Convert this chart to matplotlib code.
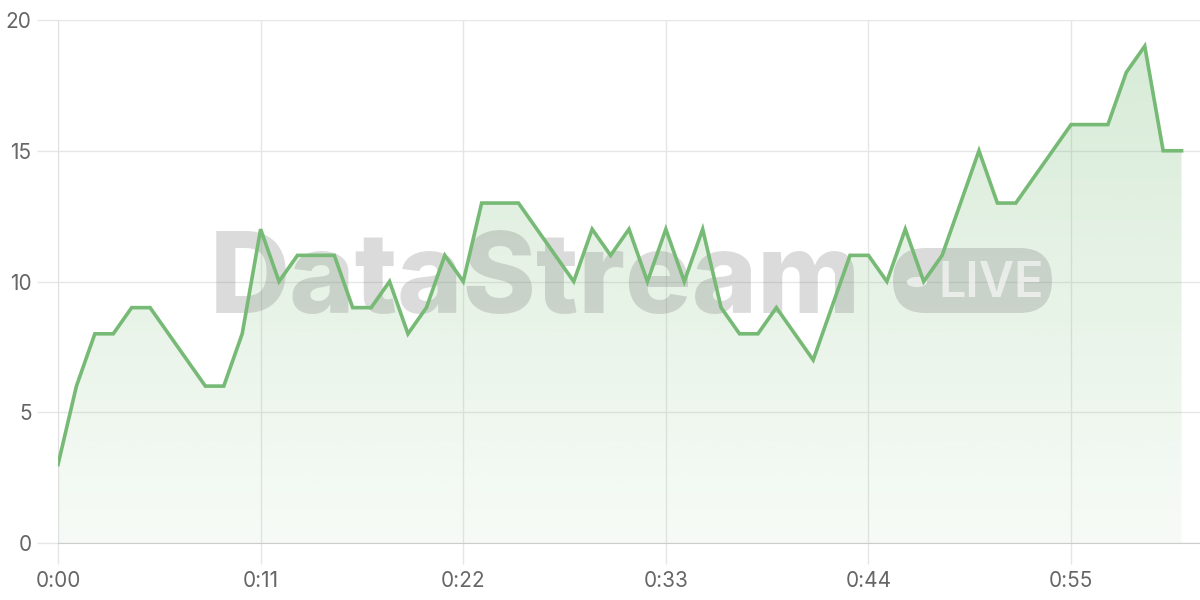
import numpy as np
import matplotlib
matplotlib.use("Agg")
import matplotlib.pyplot as plt
from matplotlib.patches import FancyBboxPatch, Circle, Polygon

# seconds since start and measured value
seconds = list(range(62))
values = [3, 6, 8, 8, 9, 9, 8, 7, 6, 6,
          8, 12, 10, 11, 11, 11, 9, 9, 10, 8,
          9, 11, 10, 13, 13, 13, 12, 11, 10, 12,
          11, 12, 10, 12, 10, 12, 9, 8, 8, 9,
          8, 7, 9, 11, 11, 10, 12, 10, 11, 13,
          15, 13, 13, 14, 15, 16, 16, 16, 18, 19,
          15, 15]
xticks = [0, 11, 22, 33, 44, 55]
xticklabels = ["0:00", "0:11", "0:22", "0:33", "0:44", "0:55"]
yticks = [0, 5, 10, 15, 20]

plt.rcParams['font.family'] = ['Inter', 'DejaVu Sans']

fig = plt.figure(figsize=(12, 6), dpi=100)
ax = fig.add_axes([58 / 1200, 57 / 600, 1142 / 1200, 523 / 600])

line_col = '#76ba76'

# gradient fill under the curve
xs = np.array(seconds, dtype=float)
ys = np.array(values, dtype=float)
verts = [(xs[0], 0)] + list(zip(xs, ys)) + [(xs[-1], 0)]
poly = Polygon(verts, closed=True, facecolor='none', edgecolor='none')
ax.add_patch(poly)
grad = np.zeros((256, 1, 4))
grad[:, 0, 0] = 0x76 / 255
grad[:, 0, 1] = 0xba / 255
grad[:, 0, 2] = 0x76 / 255
grad[:, 0, 3] = np.linspace(0.06, 0.30, 256)
img = ax.imshow(grad, extent=[xs[0], xs[-1], 0, 20], origin='lower',
                aspect='auto', zorder=1, interpolation='bilinear')
img.set_clip_path(poly)

ax.plot(seconds, values, color=line_col, linewidth=2.6, zorder=5,
        solid_joinstyle='miter')

ax.set_xlim(0, 62)
ax.set_ylim(0, 20)
ax.set_xticks(xticks)
ax.set_xticklabels(xticklabels)
ax.set_yticks(yticks)
ax.grid(True, color='#e6e6e6', linewidth=1)
ax.set_axisbelow(True)
for s in ['top', 'right']:
    ax.spines[s].set_visible(False)
ax.spines['left'].set_color('#e0e0e0')
ax.spines['bottom'].set_color('#cccccc')
ax.tick_params(axis='both', colors='#e6e6e6', length=15, width=1,
               labelcolor='#666666', labelsize=15)
ax.tick_params(axis='x', pad=5)
ax.tick_params(axis='y', pad=4)

# watermark, drawn between the fill and the line
wm_gray = (0.45, 0.45, 0.45, 0.25)
ax.text(210 / 1200, 1 - 313 / 600, "DataStream", fontsize=80, fontweight='heavy',
        color=wm_gray, va='baseline', ha='left', zorder=3,
        transform=fig.transFigure, clip_on=False)
box = FancyBboxPatch((893 / 1200, 1 - 313 / 600), 159 / 1200, 65 / 600,
                     boxstyle="round,pad=0,rounding_size=0.027",
                     transform=fig.transFigure, facecolor=wm_gray,
                     edgecolor='none', zorder=3, mutation_aspect=2,
                     clip_on=False)
ax.add_artist(box)
dot = Circle((917 / 1200, 1 - 282 / 600), 0.0085, transform=fig.transFigure,
             facecolor=(1, 1, 1, 0.6), edgecolor='none', zorder=3,
             clip_on=False)
ax.add_artist(dot)
ax.text(938 / 1200, 1 - 297 / 600, "LIVE", fontsize=35, fontweight='semibold',
        color=(1, 1, 1, 0.6), va='baseline', ha='left', zorder=3,
        transform=fig.transFigure, clip_on=False)

fig.savefig("out.png", dpi=100)
